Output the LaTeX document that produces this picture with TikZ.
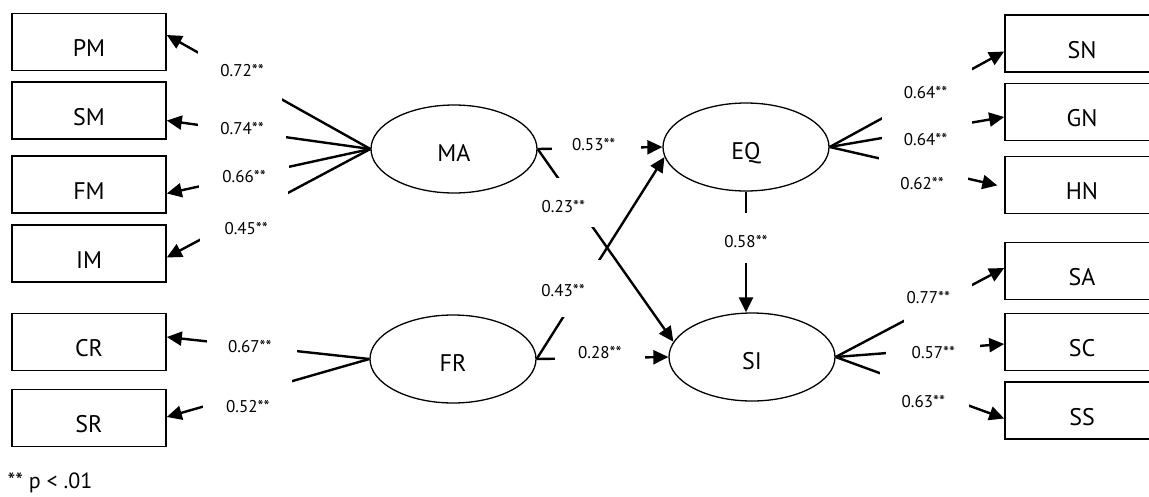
\documentclass[tikz,border=0pt]{standalone}
\usepackage{fontspec}
\setmainfont{PT Sans}
\usetikzlibrary{arrows.meta,shapes.geometric}

\begin{document}
\begin{tikzpicture}[x=1pt,y=-1pt,
  box/.style={draw, line width=1.6pt, minimum width=154, minimum height=57, inner sep=0pt, font=\fontsize{24}{28}\selectfont, text height=29, text depth=0},
  lat/.style={draw, ellipse, line width=1.3pt, minimum width=166, minimum height=88, inner sep=0pt, font=\fontsize{24}{28}\selectfont, text height=25, text depth=0},
  conn/.style={line width=2.4pt, -{Triangle[length=15pt,width=14pt]}},
  gap/.style args={#1x#2}{fill=white, inner sep=0pt, minimum width=#1, minimum height=#2},
  coef/.style={font=\fontsize{17}{20}\selectfont, inner sep=0pt}]

\useasboundingbox (0,0) rectangle (1149,496);

\node[box] (PM) at (89,42) {PM};
\node[box] (SM) at (89,110.5) {SM};
\node[box] (FM) at (89,184.5) {FM};
\node[box] (IM) at (89,253.5) {IM};
\node[box] (CR) at (89,342) {CR};
\node[box] (SR) at (89,418) {SR};

\node[box] (SN) at (1082,43.5) {SN};
\node[box] (GN) at (1082,112) {GN};
\node[box] (HN) at (1082,185) {HN};
\node[box] (SA) at (1082,271) {SA};
\node[box] (SC) at (1082,342) {SC};
\node[box] (SS) at (1082,410.5) {SS};

\node[lat] (MA) at (454,149) {MA};
\node[lat] (EQ) at (746,147) {EQ};
\node[lat] (FR) at (453,359) {FR};
\node[lat] (SI) at (752,357) {SI};

\draw[conn] (MA.west) -- node[gap=84x50, pos=.64] {} node[coef, pos=.63, yshift=7] {0.72**} ([yshift=7pt]PM.east);
\draw[conn] (MA.west) -- node[gap=88x20, pos=.63] {} node[coef, pos=.63, yshift=3] {0.74**} ([yshift=-10pt]SM.east);
\draw[conn] (MA.west) -- node[gap=90x26, pos=.62] {} node[coef, pos=.62] {0.66**} ([yshift=-9pt]FM.east);
\draw[conn] (MA.west) -- node[gap=88x52, pos=.62] {} node[coef, pos=.61, yshift=-13] {0.45**} ([yshift=-4pt]IM.east);

\draw[conn] (FR.west) -- node[gap=90x20, pos=.58] {} node[coef, pos=.59] {0.67**} ([yshift=5pt]CR.east);
\draw[conn] (FR.west) -- node[gap=89x32, pos=.6] {} node[coef, pos=.6, yshift=-13] {0.52**} ([yshift=1pt]SR.east);

\draw[conn] (EQ.east) -- node[gap=90x55, pos=.56] {} node[coef, pos=.55, yshift=2] {0.64**} ([yshift=-8pt]SN.west);
\draw[conn] (EQ.east) -- node[gap=90x22, pos=.56] {} node[coef, pos=.55, yshift=-9] {0.64**} ([yshift=-5pt]GN.west);
\draw[conn, shorten >=7pt] (EQ.east) -- node[gap=89x28, pos=.54] {} node[coef, pos=.53, yshift=-15] {0.62**} ([yshift=-2pt]HN.west);

\draw[conn] (SI.east) -- node[gap=68x42, pos=.61] {} node[coef, pos=.55, yshift=11] {0.77**} ([yshift=3pt]SA.west);
\draw[conn] (SI.east) -- node[gap=94x18, pos=.58] {} node[coef, pos=.58, yshift=-3] {0.57**} ([yshift=-2pt]SC.west);
\draw[conn] (SI.east) -- node[gap=89x38, pos=.53] {} node[coef, pos=.52, yshift=-13] {0.63**} ([yshift=-8pt]SS.west);

\draw[conn] (MA.east) -- node[gap=89x20, pos=.47] {} node[coef, pos=.45, yshift=4] {0.53**} (EQ.west);
\draw[conn] (MA.east) -- node[gap=40x49, pos=.28] {} node[coef, pos=.3, xshift=-15] {0.23**} (SI.169);
\draw[conn] (FR.east) -- node[gap=44x57, pos=.35] {} node[coef, pos=.34, xshift=-17] {0.43**} (EQ.187);
\draw[conn] (FR.east) -- node[gap=90x20, pos=.48] {} node[coef, pos=.48, yshift=6] {0.28**} (SI.west);
\draw[conn] (EQ.south) -- node[gap=20x50, pos=.38] {} node[coef, pos=.41] {0.58**} (EQ.south |- SI.north);

\node[anchor=base west, font=\fontsize{22}{26}\selectfont] (note) at (4,488) {** p < .01};

\end{tikzpicture}
\end{document}
